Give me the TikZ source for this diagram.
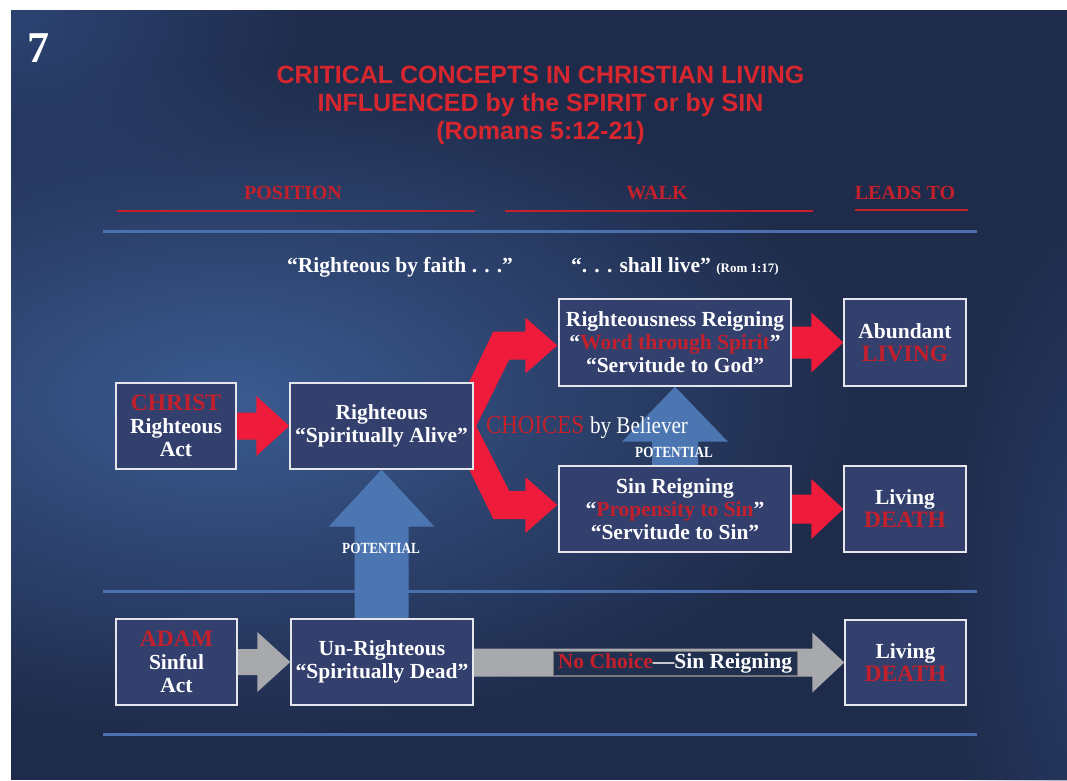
\documentclass[tikz,border=0pt]{standalone}
\usepackage{fontspec}
\setmainfont{Liberation Serif}
\newfontfamily\titlefont{Liberation Sans}
\newfontfamily\narrowserif[FakeStretch=0.88]{Liberation Serif}
\newfontfamily\narrowbold[FakeStretch=0.85]{Liberation Serif Bold}
\usetikzlibrary{calc,fadings}

\definecolor{bgdark}{HTML}{1F2B4A}
\definecolor{bgglow}{HTML}{3B5B92}
\definecolor{bgedge}{HTML}{2C4372}
\definecolor{titlered}{HTML}{D8262E}
\definecolor{wordred}{HTML}{C4202B}
\definecolor{arrowred}{HTML}{EE1B3A}
\definecolor{boxfill}{HTML}{333F6D}
\definecolor{boxline}{HTML}{E4E6EC}
\definecolor{rulesblue}{HTML}{4A70AE}
\definecolor{potblue}{HTML}{4B76B2}
\definecolor{arrowgray}{HTML}{A7A9AC}
\definecolor{labelfill}{HTML}{22304F}

\tikzfading[name=softglow, inner color=transparent!0, outer color=transparent!100]

\pgfdeclarelayer{backdrop}
\pgfdeclarelayer{links}
\pgfsetlayers{backdrop,links,main}

\newcommand\boxtext{\fontsize{21.5}{23}\selectfont\bfseries}
\newcommand\rw[1]{{\color{wordred}\fontsize{23.5}{23}\selectfont #1}}

% horizontal block arrow: style, from, to (tip), shaft half, head half, head length
\newcommand\hblock[6]{%
  \fill[#1] let \p1=(#2), \p2=(#3) in
    (\x1,\y2+#4) -- (\x2-#6,\y2+#4) -- (\x2-#6,\y2+#5) -- (\x2,\y2)
    -- (\x2-#6,\y2-#5) -- (\x2-#6,\y2-#4) -- (\x1,\y2-#4) -- cycle;}
% upward block arrow: style, from (bottom), to (tip), shaft half, head half, head length
\newcommand\vblock[6]{%
  \fill[#1] let \p1=(#2), \p2=(#3) in
    (\x2-#4,\y1) -- (\x2-#4,\y2-#6) -- (\x2-#5,\y2-#6) -- (\x2,\y2)
    -- (\x2+#5,\y2-#6) -- (\x2+#4,\y2-#6) -- (\x2+#4,\y1) -- cycle;}

\begin{document}
\begin{tikzpicture}[x=1pt,y=-1pt,
  box/.style={draw=boxline, line width=1.4pt, fill=boxfill, inner sep=0pt,
    align=center, text=white, font=\boxtext},
  hdr/.style={text=wordred, font=\fontsize{20}{20}\selectfont\bfseries, inner sep=0pt},
  redrule/.style={draw=wordred, line width=2.5pt},
  bluerule/.style={draw=rulesblue, line width=3pt},
  titleline/.style={text=titlered, font=\titlefont\fontsize{25}{25}\selectfont\bfseries,
    anchor=base, inner sep=0pt},
  quote/.style={text=white, font=\fontsize{21.5}{21.5}\selectfont\bfseries,
    anchor=base west, inner sep=0pt},
  potlabel/.style={text=white, font=\narrowbold\fontsize{15.5}{15.5}\selectfont, inner sep=0pt},
  redarrow/.style={fill=arrowred},
  grayarrow/.style={fill=arrowgray},
  bluearrow/.style={fill=potblue}]

\useasboundingbox (0,0) rectangle (1067,780);

% backdrop panel with soft glows
\begin{pgfonlayer}{backdrop}
  \fill[white] (0,0) rectangle (1067,780);
  \fill[bgdark] (11,10) rectangle (1067,780);
  \begin{scope}
    \clip (11,10) rectangle (1067,780);
    \fill[bgglow, path fading=softglow] (230,400) ellipse [x radius=640, y radius=340];
    \fill[bgedge, path fading=softglow, fill opacity=0.8] (1110,600) ellipse [x radius=170, y radius=420];
    \fill[bgedge, path fading=softglow] (20,20) ellipse [x radius=300, y radius=200];
  \end{scope}
  \draw[bluerule] (103,231) -- (977,231);
  \draw[bluerule] (103,591) -- (977,591);
  \draw[bluerule] (103,734) -- (977,734);
  \draw[redrule] (117,211) -- (475,211);
  \draw[redrule] (505,211) -- (813,211);
  \draw[redrule] (855,210) -- (968,210);
\end{pgfonlayer}

% page number and title
\node[text=white, font=\fontsize{44}{44}\selectfont\bfseries, anchor=base, inner sep=0pt]
  (num) at (38.5,62) {7};
\node[titleline] (t1) at (540.5,83) {CRITICAL CONCEPTS IN CHRISTIAN LIVING};
\node[titleline] (t2) at (540.5,111) {INFLUENCED by the SPIRIT or by SIN};
\node[titleline] (t3) at (540.5,139) {(Romans 5:12-21)};

% column headings
\node[hdr] (hpos) at (293,193) {POSITION};
\node[hdr] (hwalk) at (657,193) {WALK};
\node[hdr] (hlead) at (905,193) {LEADS TO};

% quotation line
\node[quote] (faith) at (287,272) {“Righteous by faith . . .”};
\node[quote] (live) at (571,272) {“. . . shall live” {\fontsize{13}{13}\selectfont (Rom 1:17)}};

% boxes
\node[box, minimum width=120pt, minimum height=86pt] (christ) at (176,426)
  {\rw{CHRIST}\\Righteous\\Act};
\node[box, minimum width=183pt, minimum height=86pt] (alive) at (381.5,426)
  {Righteous\\“Spiritually Alive”};
\node[box, minimum width=232pt, minimum height=87pt] (rr) at (675,342.5)
  {Righteousness Reigning\\“{\color{wordred}Word through Spirit}”\\“Servitude to God”};
\node[box, minimum width=122pt, minimum height=87pt] (abund) at (905,342.5)
  {Abundant\\\rw{LIVING}};
\node[box, minimum width=232pt, minimum height=86pt] (sr) at (675,509)
  {Sin Reigning\\“{\color{wordred}Propensity to Sin}”\\“Servitude to Sin”};
\node[box, minimum width=122pt, minimum height=86pt] (deathA) at (905,509)
  {Living\\\rw{DEATH}};
\node[box, minimum width=121pt, minimum height=86pt] (adam) at (176.5,662)
  {\rw{ADAM}\\Sinful\\Act};
\node[box, minimum width=182pt, minimum height=86pt] (unr) at (382,662)
  {Un-Righteous\\“Spiritually Dead”};
\node[box, minimum width=121pt, minimum height=85pt] (deathB) at (905.5,662.5)
  {Living\\\rw{DEATH}};

% connectors
\begin{pgfonlayer}{links}
  \hblock{redarrow}{christ.east}{alive.west}{13.5pt}{30pt}{33pt}
  \hblock{redarrow}{rr.east}{abund.west}{16pt}{30pt}{32pt}
  \hblock{redarrow}{sr.east}{deathA.west}{14.5pt}{30pt}{32pt}
  \hblock{grayarrow}{adam.east}{unr.west}{13pt}{30pt}{33pt}
  \hblock{grayarrow}{unr.east}{deathB.west}{14pt}{30pt}{32pt}
  \vblock{bluearrow}{unr.north}{alive.south}{27pt}{53pt}{57pt}
  \vblock{bluearrow}{sr.north}{rr.south}{23pt}{53pt}{55pt}
  % forked choice arrow
  \coordinate (up) at ($(rr.west)+(0,3)$);
  \coordinate (lo) at ($(sr.west)+(0,-4)$);
  \fill[redarrow] ($(alive.east)+(-25.5,0)$)
    -- ($(up)+(-65,-14)$) -- ($(up)+(-33,-14)$) -- ($(up)+(-33,-28)$)
    -- ($(up)+(-1,0)$) -- ($(up)+(-33,28)$) -- ($(up)+(-33,14)$) -- ($(up)+(-49,14)$)
    -- ($(alive.east)+(2.5,0)$)
    -- ($(lo)+(-49,-14)$) -- ($(lo)+(-33,-14)$) -- ($(lo)+(-33,-28)$)
    -- ($(lo)+(-1,0)$) -- ($(lo)+(-33,28)$) -- ($(lo)+(-33,14)$) -- ($(lo)+(-65,14)$)
    -- cycle;
\end{pgfonlayer}

% labels on the connectors
\node[potlabel] (potA) at (381,548) {POTENTIAL};
\node[potlabel] (potB) at (674,452.5) {POTENTIAL};
\node[anchor=base west, inner sep=0pt, text=white, font=\narrowserif] (choices) at (486,433)
  {{\color{wordred}\fontsize{26}{26}\selectfont CHOICES}\hspace{6pt}{\fontsize{24}{24}\selectfont by Believer}};
\node[draw=arrowgray!70!black, line width=0.6pt, fill=labelfill, inner sep=0pt,
  minimum width=244pt, minimum height=24pt, text=white, font=\boxtext] (nochoice) at (675,663)
  {{\color{wordred}No Choice}—Sin Reigning};

\end{tikzpicture}
\end{document}
